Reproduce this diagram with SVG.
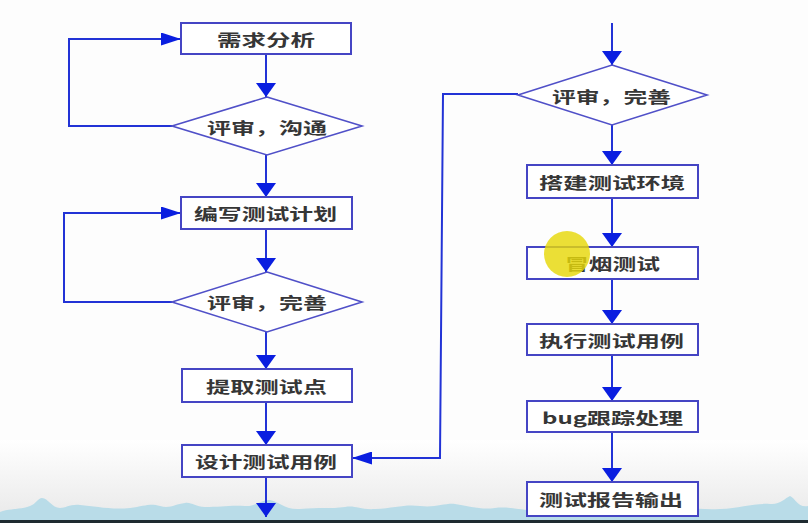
<svg xmlns="http://www.w3.org/2000/svg" width="808" height="523" viewBox="0 0 808 523">
<style>
.box{fill:#fff;stroke:#4545c4;stroke-width:2}
.dia{fill:#fff;stroke:#5050c8;stroke-width:1.6}
.lbl{font-family:"Noto Sans CJK SC","Noto Sans",sans-serif;font-size:16px;font-weight:bold;fill:#363636;dominant-baseline:central}
.con{fill:none;stroke:#2233d6;stroke-width:2}
.cv{fill:none;stroke:#2233d6;stroke-width:2;marker-end:url(#ad)}
.ch{fill:none;stroke:#2233d6;stroke-width:2;marker-end:url(#as)}
</style>
<defs>
<marker id="ad" markerUnits="userSpaceOnUse" markerWidth="14" markerHeight="20" refX="14" refY="10" orient="auto"><path d="M0,0 L14,10 L0,20 z" fill="#0a1ee0"/></marker>
<marker id="as" markerUnits="userSpaceOnUse" markerWidth="20" markerHeight="13" refX="20" refY="6.5" orient="auto"><path d="M0,0 L20,6.5 L0,13 z" fill="#0a1ee0"/></marker>
<linearGradient id="bg" x1="0" y1="0" x2="0" y2="1"><stop offset="0" stop-color="#ffffff"/><stop offset="1" stop-color="#e8e8e8"/></linearGradient>
</defs>
<rect width="808" height="523" fill="#fdfdfd"/>
<rect x="0" y="440" width="808" height="83" fill="url(#bg)"/>
<path d="M0,512 C10,508 20,510 30,506 C36,504 38,498 42,498 C48,498 52,508 60,508 C66,508 70,504 80,505 C95,506 110,510 130,508 C145,506 150,503 160,506 C170,509 175,504 185,503 C192,502 195,507 205,507 C220,507 230,505 245,506 C255,507 262,499 270,500 C280,502 285,510 300,509 C320,507 330,509 345,507 C355,505 360,510 375,509 C395,508 405,504 420,506 C435,508 445,503 455,504 C470,506 480,510 495,508 C510,506 520,511 540,510 C560,509 580,507 600,508 C625,509 640,505 660,506 C680,507 700,510 720,509 C740,508 755,503 770,504 C780,505 785,498 790,496 C795,498 798,508 808,506 L808,520 L0,520 Z" fill="#b9dce8"/>
<g id="connectors">
<path class="cv" d="M266,54 V97"/>
<path class="ch" d="M172,126 H69 V39 H181"/>
<path class="cv" d="M266,155 V197"/>
<path class="cv" d="M266,229 V272"/>
<path class="ch" d="M172,302 H64 V213 H181"/>
<path class="cv" d="M266,332 V369"/>
<path class="cv" d="M266,402 V445"/>
<path class="cv" d="M266,477 V517"/>
<path class="ch" d="M518,94 H443 L440,458 H352"/>
<path class="cv" d="M612,23 V65"/>
<path class="cv" d="M612,125 V165"/>
<path class="cv" d="M612,198 V247"/>
<path class="cv" d="M612,279 V324"/>
<path class="cv" d="M612,355 V401"/>
<path class="cv" d="M612,432 V482"/>
</g>
<g id="n1"><rect class="box" x="181" y="23" width="170" height="31"/><text class="lbl" x="217" y="39" textLength="98" lengthAdjust="spacingAndGlyphs">需求分析</text></g>
<g id="n2"><polygon class="dia" points="267,97 362,126 267,155 172,126"/><text class="lbl" x="207" y="127" textLength="120" lengthAdjust="spacingAndGlyphs">评审，沟通</text></g>
<g id="n3"><rect class="box" x="181" y="197" width="171" height="32"/><text class="lbl" x="194" y="213" textLength="143" lengthAdjust="spacingAndGlyphs">编写测试计划</text></g>
<g id="n4"><polygon class="dia" points="267,272 362,302 267,332 172,302"/><text class="lbl" x="207" y="302" textLength="120" lengthAdjust="spacingAndGlyphs">评审，完善</text></g>
<g id="n5"><rect class="box" x="182" y="369" width="170" height="33"/><text class="lbl" x="206" y="386" textLength="121" lengthAdjust="spacingAndGlyphs">提取测试点</text></g>
<g id="n6"><rect class="box" x="182" y="445" width="170" height="32"/><text class="lbl" x="195" y="461" textLength="142" lengthAdjust="spacingAndGlyphs">设计测试用例</text></g>
<g id="n7"><polygon class="dia" points="612,65 707,95 612,125 518,95"/><text class="lbl" x="552" y="96" textLength="119" lengthAdjust="spacingAndGlyphs">评审，完善</text></g>
<g id="n8"><rect class="box" x="527" y="165" width="171" height="33"/><text class="lbl" x="539" y="182" textLength="146" lengthAdjust="spacingAndGlyphs">搭建测试环境</text></g>
<g id="n9"><rect class="box" x="527" y="247" width="171" height="32"/><text class="lbl" x="565" y="263" textLength="95" lengthAdjust="spacingAndGlyphs">冒烟测试</text></g>
<g id="n10"><rect class="box" x="527" y="324" width="171" height="31"/><text class="lbl" x="539" y="340" textLength="145" lengthAdjust="spacingAndGlyphs">执行测试用例</text></g>
<g id="n11"><rect class="box" x="527" y="401" width="171" height="31"/><text class="lbl" x="542" y="417" textLength="141" lengthAdjust="spacingAndGlyphs">bug跟踪处理</text></g>
<g id="n12"><rect class="box" x="527" y="482" width="171" height="34"/><text class="lbl" x="539" y="499" textLength="144" lengthAdjust="spacingAndGlyphs">测试报告输出</text></g>
<circle cx="567" cy="254" r="23" fill="#e6d80a" opacity="0.82"/>
<rect x="0" y="520" width="808" height="3" fill="#1e2a30"/>
</svg>
